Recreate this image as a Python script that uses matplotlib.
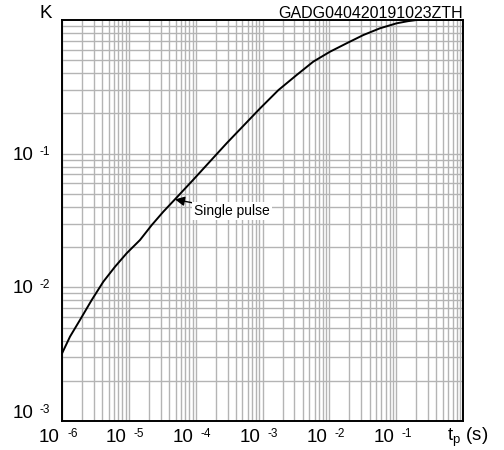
import matplotlib
matplotlib.use("Agg")
import matplotlib.pyplot as plt
from matplotlib.ticker import LogLocator, NullFormatter, FixedLocator
from matplotlib.transforms import blended_transform_factory, offset_copy
import numpy as np

plt.rcParams['font.family'] = ['Liberation Sans', 'DejaVu Sans']
plt.rcParams['mathtext.fontset'] = 'custom'
plt.rcParams['mathtext.rm'] = 'Liberation Sans'
plt.rcParams['mathtext.it'] = 'Liberation Sans'

# data
tp = [1.0e-6, 1.318e-6, 1.858e-6, 2.78e-6, 4.15e-6, 6.21e-6, 9.29e-6, 1.469e-5,
      2.198e-5, 3.28e-5, 5.20e-5, 9.12e-5, 2.91e-4, 9.18e-4, 1.73e-3, 3.25e-3,
      5.75e-3, 0.01023, 0.0182, 0.0323, 0.0573, 0.1019, 0.150, 0.203, 1.0]
K = [0.0032, 0.00428, 0.00570, 0.00803, 0.01102, 0.01426, 0.0180, 0.0226,
     0.0292, 0.0368, 0.0470, 0.0635, 0.1197, 0.218, 0.299, 0.388,
     0.488, 0.579, 0.670, 0.772, 0.867, 0.945, 0.980, 1.0, 1.0]

xticks = [1e-6, 1e-5, 1e-4, 1e-3, 1e-2, 1e-1, 1.0]
x_exp = ['-6', '-5', '-4', '-3', '-2', '-1']
yticks = [1e-3, 1e-2, 1e-1]
y_exp = ['-3', '-2', '-1']
y_label_centers_px = [413, 288, 155.4]

fig = plt.figure(figsize=(5.04, 4.5), dpi=100)
ax = fig.add_axes([62/504, 29/450, 401/504, 401/450])

ax.plot(tp, K, color='black', lw=1.4, zorder=3)
ax.set_xscale('log')
ax.set_yscale('log')
ax.set_xlim(1e-6, 1.0)
ax.set_ylim(1e-3, 1.0)

ax.xaxis.set_major_locator(FixedLocator(xticks))
ax.yaxis.set_major_locator(FixedLocator(yticks))
ax.xaxis.set_minor_locator(LogLocator(base=10, subs=np.arange(2, 10)))
ax.yaxis.set_minor_locator(LogLocator(base=10, subs=np.arange(2, 10)))
for axis in (ax.xaxis, ax.yaxis):
    axis.set_major_formatter(NullFormatter())
    axis.set_minor_formatter(NullFormatter())
ax.tick_params(which='both', length=0)

ax.grid(True, which='both', color='#b4b4b4', lw=1.0, zorder=0)
for s in ax.spines.values():
    s.set_linewidth(1.4)
    s.set_color('black')

# x tick labels (10 with superscript exponent)
tx = blended_transform_factory(ax.transData, fig.transFigure)
for xv, e in zip(xticks[:-1], x_exp):
    fig.text(xv, 1 - 438/450, '10', fontsize=13.5, ha='right', va='center',
             transform=offset_copy(tx, fig, x=-2, units='dots'))
    fig.text(xv, 1 - 434/450, e, fontsize=8.5, ha='left', va='center',
             transform=offset_copy(tx, fig, x=5, units='dots'))
fig.text(447/504, 1 - 437/450, r'$\mathregular{t_p}$ (s)', fontsize=13.5, ha='left', va='center')

# y tick labels
for yc, e in zip(y_label_centers_px, y_exp):
    fig.text(34/504, 1 - (yc + 0.3)/450, '10', fontsize=13.5, ha='right', va='center')
    fig.text(40/504, 1 - (yc - 3.2)/450, e, fontsize=8.5, ha='left', va='center')

ax.annotate('Single pulse', xy=(4.91e-5, 0.0455), xytext=(9.5e-5, 0.0375),
            fontsize=10, va='center', ha='left',
            bbox=dict(boxstyle='square,pad=0.15', fc='white', ec='none'),
            arrowprops=dict(arrowstyle='-|>', color='black', lw=1.0, mutation_scale=14,
                            shrinkA=0, shrinkB=0),
            zorder=4)

fig.text(45.5/504, 1 - 13.5/450, 'K', fontsize=13.5, ha='center', va='center')
fig.text(463/504, 1 - 13/450, 'GADG040420191023ZTH', fontsize=11.5, ha='right', va='center')

fig.savefig('out.png', dpi=100)
